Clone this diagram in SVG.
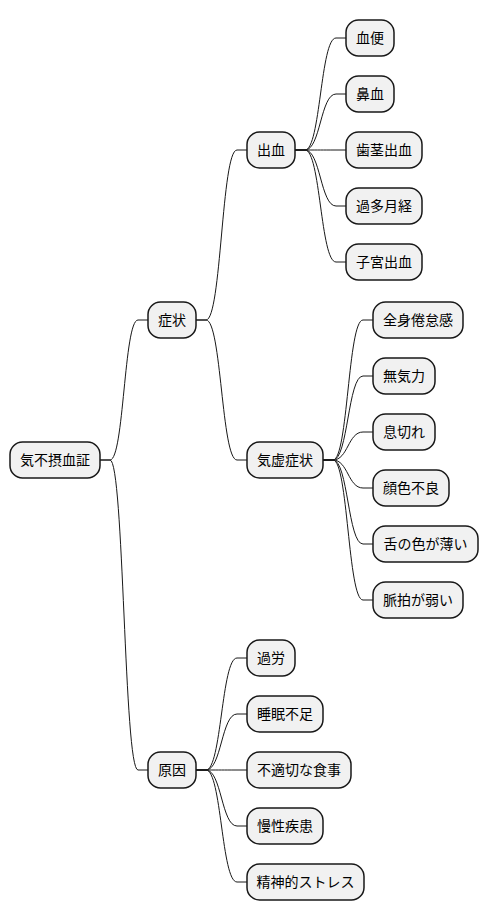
<svg xmlns="http://www.w3.org/2000/svg" width="488" height="921" viewBox="0 0 488 921">
<style>
.n rect{fill:#F1F1F1;stroke:#181818;stroke-width:1.5}
.n text{font-family:"Noto Sans CJK JP","Noto Sans",sans-serif;font-size:14px;fill:#000;text-anchor:middle}
#connectors path{fill:none;stroke:#181818;stroke-width:1}
</style>
<rect width="488" height="921" fill="#FFFFFF"/>
<g id="connectors">
<path d="M100,460 L110,460 C124,460 124,320 138,320 L148,320"/>
<path d="M100,460 L110,460 C124,460 124,770 138,770 L148,770"/>
<path d="M196,320 L206,320 C221.5,320 221.5,150 237,150 L247,150"/>
<path d="M196,320 L206,320 C221.5,320 221.5,460 237,460 L247,460"/>
<path d="M295,150 L305,150 C320.5,150 320.5,38 336,38 L346,38"/>
<path d="M295,150 L305,150 C320.5,150 320.5,94 336,94 L346,94"/>
<path d="M295,150 L305,150 C320.5,150 320.5,150 336,150 L346,150"/>
<path d="M295,150 L305,150 C320.5,150 320.5,206 336,206 L346,206"/>
<path d="M295,150 L305,150 C320.5,150 320.5,262 336,262 L346,262"/>
<path d="M323,460 L333,460 C348,460 348,320 363,320 L373,320"/>
<path d="M323,460 L333,460 C348,460 348,376 363,376 L373,376"/>
<path d="M323,460 L333,460 C348,460 348,432 363,432 L373,432"/>
<path d="M323,460 L333,460 C348,460 348,488 363,488 L373,488"/>
<path d="M323,460 L333,460 C348,460 348,544 363,544 L373,544"/>
<path d="M323,460 L333,460 C348,460 348,600 363,600 L373,600"/>
<path d="M196,770 L206,770 C221.5,770 221.5,658 237,658 L247,658"/>
<path d="M196,770 L206,770 C221.5,770 221.5,714 237,714 L247,714"/>
<path d="M196,770 L206,770 C221.5,770 221.5,770 237,770 L247,770"/>
<path d="M196,770 L206,770 C221.5,770 221.5,826 237,826 L247,826"/>
<path d="M196,770 L206,770 C221.5,770 221.5,882 237,882 L247,882"/>
</g>
<g id="root" class="n"><rect x="10" y="442" width="90" height="36" rx="12.5"/><text x="55" y="465">気不摂血証</text></g>
<g id="shojo" class="n"><rect x="148" y="302" width="48" height="36" rx="12.5"/><text x="172" y="325">症状</text></g>
<g id="shukketsu" class="n"><rect x="247" y="132" width="48" height="36" rx="12.5"/><text x="271" y="155">出血</text></g>
<g id="ketsuben" class="n"><rect x="346" y="20" width="48" height="36" rx="12.5"/><text x="370" y="43">血便</text></g>
<g id="bijiketsu" class="n"><rect x="346" y="76" width="48" height="36" rx="12.5"/><text x="370" y="99">鼻血</text></g>
<g id="shiken" class="n"><rect x="346" y="132" width="76" height="36" rx="12.5"/><text x="384" y="155">歯茎出血</text></g>
<g id="kata" class="n"><rect x="346" y="188" width="76" height="36" rx="12.5"/><text x="384" y="211">過多月経</text></g>
<g id="shikyu" class="n"><rect x="346" y="244" width="76" height="36" rx="12.5"/><text x="384" y="267">子宮出血</text></g>
<g id="kikyo" class="n"><rect x="247" y="442" width="76" height="36" rx="12.5"/><text x="285" y="465">気虚症状</text></g>
<g id="zenshin" class="n"><rect x="373" y="302" width="90" height="36" rx="12.5"/><text x="418" y="325">全身倦怠感</text></g>
<g id="mukiryoku" class="n"><rect x="373" y="358" width="62" height="36" rx="12.5"/><text x="404" y="381">無気力</text></g>
<g id="ikigire" class="n"><rect x="373" y="414" width="62" height="36" rx="12.5"/><text x="404" y="437">息切れ</text></g>
<g id="ganshoku" class="n"><rect x="373" y="470" width="76" height="36" rx="12.5"/><text x="411" y="493">顔色不良</text></g>
<g id="shita" class="n"><rect x="373" y="526" width="105" height="36" rx="12.5"/><text x="425.5" y="549">舌の色が薄い</text></g>
<g id="myakuhaku" class="n"><rect x="373" y="582" width="90" height="36" rx="12.5"/><text x="418" y="605">脈拍が弱い</text></g>
<g id="gen-in" class="n"><rect x="148" y="752" width="48" height="36" rx="12.5"/><text x="172" y="775">原因</text></g>
<g id="karo" class="n"><rect x="247" y="640" width="48" height="36" rx="12.5"/><text x="271" y="663">過労</text></g>
<g id="suimin" class="n"><rect x="247" y="696" width="76" height="36" rx="12.5"/><text x="285" y="719">睡眠不足</text></g>
<g id="shokuji" class="n"><rect x="247" y="752" width="104" height="36" rx="12.5"/><text x="299" y="775">不適切な食事</text></g>
<g id="mansei" class="n"><rect x="247" y="808" width="76" height="36" rx="12.5"/><text x="285" y="831">慢性疾患</text></g>
<g id="stress" class="n"><rect x="247" y="864" width="117" height="36" rx="12.5"/><text x="305.5" y="887">精神的ストレス</text></g>
</svg>
